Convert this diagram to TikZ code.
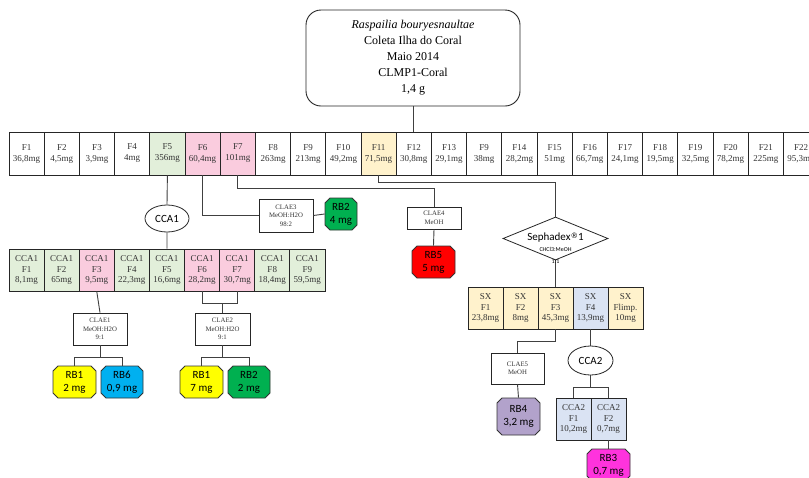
\documentclass[tikz,border=0pt]{standalone}
\usepackage{fontspec}
\setmainfont{Liberation Serif}
\setsansfont{Carlito}
\newfontfamily\symbfont{DejaVu Sans}
\usetikzlibrary{shapes.geometric,shapes.misc}

\definecolor{fgreen}{RGB}{226,239,218}
\definecolor{fpink}{RGB}{250,204,222}
\definecolor{fcream}{RGB}{255,242,204}
\definecolor{fblue}{RGB}{218,227,243}
\definecolor{rbyellow}{RGB}{255,255,0}
\definecolor{rbgreen}{RGB}{0,176,80}
\definecolor{rbcyan}{RGB}{0,176,240}
\definecolor{rbred}{RGB}{255,0,0}
\definecolor{rbpurple}{RGB}{178,162,203}
\definecolor{rbmagenta}{RGB}{255,51,221}

\begin{document}
\begin{tikzpicture}[x=1pt,y=-1pt,
    link/.style={draw=black!75, line width=0.9pt},
    fracbox/.style={draw=black!85, line width=0.8pt, inner sep=0pt, align=center,
        minimum width=35.2pt, minimum height=43pt, text=black!80,
        font=\fontsize{9}{11}\selectfont},
    subbox/.style={fracbox, minimum width=35.1pt, minimum height=42pt,
        font=\fontsize{9}{10.5}\selectfont},
    claebox/.style={draw=black!85, line width=0.7pt, fill=white, inner sep=0pt,
        align=center, minimum width=54pt, text=black!80,
        font=\fontsize{6.8}{8.5}\selectfont},
    rbbox/.style={chamfered rectangle, chamfered rectangle sep=2.5pt,
        draw=black!80, line width=0.8pt,
        inner sep=0pt, align=center, minimum width=43pt, minimum height=32pt,
        font=\sffamily\fontsize{11}{13}\selectfont},
    cellipse/.style={ellipse, draw=black!85, line width=0.8pt, fill=white,
        inner sep=0pt, minimum width=44pt, minimum height=27pt,
        font=\sffamily\fontsize{11}{13}\selectfont}]

    \fill[white] (0,0) rectangle (809,477);
    \useasboundingbox (0,0) rectangle (809,477);

    % sample
    \node[draw=black!85, line width=0.9pt, rounded corners=15pt, align=center,
        minimum width=214pt, minimum height=96pt, inner sep=0pt,
        font=\fontsize{12}{16}\selectfont] (sample) at (413,58)
        {\textit{Raspailia bouryesnaultae}\\Coleta Ilha do Coral\\Maio 2014\\CLMP1-Coral\\1,4 g};

    % fractions
    \foreach \lab/\val/\col [count=\i] in {F1/{36,8mg}/white, F2/{4,5mg}/white,
        F3/{3,9mg}/white, F4/4mg/white, F5/356mg/fgreen, F6/{60,4mg}/fpink,
        F7/101mg/fpink, F8/263mg/white, F9/213mg/white, F10/{49,2mg}/white,
        F11/{71,5mg}/fcream, F12/{30,8mg}/white, F13/{29,1mg}/white, F9/38mg/white,
        F14/{28,2mg}/white, F15/51mg/white, F16/{66,7mg}/white, F17/{24,1mg}/white,
        F18/{19,5mg}/white, F19/{32,5mg}/white, F20/{78,2mg}/white, F21/225mg/white,
        F22/{95,3mg}/white}
        \node[fracbox, fill=\col] (fr\i) at ({9+35.2*(\i-0.5)},153.5) {\lab\\\val};

    % CCA1 column
    \node[cellipse] (cca1) at (167,218.5) {CCA1};
    \foreach \col/\val [count=\i] in {fgreen/{8,1mg}, fgreen/65mg, fpink/{9,5mg},
        fgreen/{22,3mg}, fgreen/{16,6mg}, fpink/{28,2mg}, fpink/{30,7mg},
        fgreen/{18,4mg}, fgreen/{59,5mg}}
        \node[subbox, fill=\col] (cc\i) at ({9+35.1*(\i-0.5)},270) {CCA1\\F\i\\\val};

    \node[claebox, minimum height=33pt] (clae3) at (286,215.5) {CLAE3\\MeOH:H2O\\98:2};
    \node[rbbox, fill=rbgreen, minimum width=32pt] (rb2a) at (341,214) {RB2\\4 mg};
    \node[claebox, minimum height=22pt] (clae4) at (434,218) {CLAE4\\MeOH};
    \node[rbbox, fill=rbred] (rb5) at (433.5,262) {RB5\\5 mg};

    \node[claebox, minimum height=32pt] (clae1) at (100,329) {CLAE1\\MeOH:H2O\\9:1};
    \node[claebox, minimum width=55pt, minimum height=32pt] (clae2) at (222.5,329) {CLAE2\\MeOH:H2O\\9:1};
    \node[rbbox, fill=rbyellow] (rb1a) at (74.5,382) {RB1\\2 mg};
    \node[rbbox, fill=rbcyan, minimum width=42pt] (rb6) at (122,382) {RB6\\0,9 mg};
    \node[rbbox, fill=rbyellow] (rb1b) at (201.5,382) {RB1\\7 mg};
    \node[rbbox, fill=rbgreen, minimum width=42pt] (rb2b) at (249,382) {RB2\\2 mg};

    % Sephadex column
    \node[diamond, draw=black!85, line width=0.8pt, fill=white, inner sep=0pt,
        minimum width=105pt, minimum height=43pt] (seph) at (555.5,238.5) {};
    \foreach \lab/\val/\col [count=\i] in {F1/{23,8mg}/fcream, F2/8mg/fcream,
        F3/{45,3mg}/fcream, F4/{13,9mg}/fblue, Flimp./10mg/fcream}
        \node[subbox, fill=\col, minimum width=35pt] (sx\i) at ({468+35*(\i-0.5)},308) {SX\\\lab\\\val};

    \node[claebox, minimum width=53pt, minimum height=31pt] (clae5) at (517.5,368.5) {CLAE5\\MeOH};
    \node[rbbox, fill=rbpurple, minimum height=37pt] (rb4) at (518.5,416.5) {RB4\\3,2 mg};
    \node[cellipse, minimum width=45pt, minimum height=29pt] (cca2) at (590.5,360.5) {CCA2};
    \node[subbox, fill=fblue, minimum width=35pt] (cx1) at (573.5,419) {CCA2\\F1\\10,2mg};
    \node[subbox, fill=fblue, minimum width=35pt] (cx2) at (608.5,419) {CCA2\\F2\\0,7mg};
    \node[rbbox, fill=rbmagenta, minimum height=32pt] (rb3) at (608.5,465) {RB3\\0,7 mg};

    % connectors
    \draw[link] (sample.south) -- (sample.south |- fr12.north);
    \draw[link] (fr5.south) -- (cca1.north);
    \draw[link] (fr6.south) |- (clae3.west);
    \draw[link] (clae3.east) -- (rb2a.west);
    \draw[link] (fr7.south) -- ++(0,13) -| (clae4.north);
    \draw[link] (clae4.south) -- (rb5.north);
    \draw[link] (fr11.south) -- ++(0,7) -| (seph.north);

    \draw[link] (cca1.south) -- (cc5.north);
    \draw[link] (cc3.south) -- (clae1.north);
    \draw[link] (clae1.south) -- ++(0,12) coordinate (j1);
    \draw[link] (j1) -| (rb1a.north);
    \draw[link] (j1) -| (rb6.north);
    \draw[link] (cc6.south) -- ++(0,12) -| (cc7.south);
    \draw[link] (clae2.north) -- ++(0,-10);
    \draw[link] (clae2.south) -- ++(0,12) coordinate (j2);
    \draw[link] (j2) -| (rb1b.north);
    \draw[link] (j2) -| (rb2b.north);

    \draw[link] (seph.south) -- (sx3.north);
    \draw[link] (sx3.south) -- ++(0,12) -| (clae5.north);
    \draw[link] (clae5.south) -- (rb4.north);
    \draw[link] (sx4.south) -- (cca2.north);
    \draw[link] (cca2.south) -- ++(0,12) coordinate (j3);
    \draw[link] (j3) -| (cx1.north);
    \draw[link] (j3) -| (cx2.north);
    \draw[link] (cx2.south) -- (rb3.north);

    \node[align=center, inner sep=0pt, font=\sffamily] (sephtxt) at (555.5,248)
        {{\fontsize{11}{12}\selectfont Sephadex\raisebox{0.4ex}{\symbfont\fontsize{7.5}{7.5}\selectfont ®}1}\\[-1.5pt]
         {\fontsize{6}{7.5}\selectfont CHCl3:MeOH}\\{\fontsize{6}{7.5}\selectfont 1:1}};
\end{tikzpicture}
\end{document}
